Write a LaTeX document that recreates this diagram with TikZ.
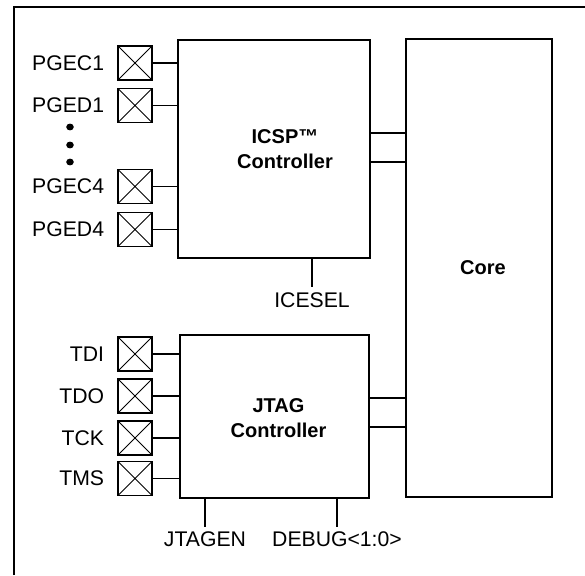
\documentclass[tikz,border=0pt]{standalone}
\usepackage{fontspec}
\setmainfont{Liberation Sans}
\usetikzlibrary{positioning}

\tikzset{
  ctrl/.style={draw, line width=1.7pt, inner sep=0pt},
  ctrltext/.style={font=\bfseries\fontsize{20}{25}\selectfont, align=center},
  pinbox/.style={draw, line width=1.5pt, minimum size=34pt, inner sep=0pt,
    path picture={\draw[line width=0.8pt]
      (path picture bounding box.north west) -- (path picture bounding box.south east)
      (path picture bounding box.south west) -- (path picture bounding box.north east);}},
  pinlabel/.style={font=\fontsize{21.2}{25}\selectfont, inner sep=0pt},
  wire/.style={line width=1.5pt},
}

\begin{document}
\begin{tikzpicture}[x=1pt, y=-1pt]

     \useasboundingbox (0,0) rectangle (585,575);
     \draw [line width=2.4pt] (14,575) -- (14,7) -- (585,7);

     % blocks
     \node (icsp) at (274,149) [ctrl, minimum width=192pt, minimum height=218pt] {};
     \node (jtag) at (274.5,416.5) [ctrl, minimum width=189pt, minimum height=163pt] {};
     \node (core) at (479,268) [ctrl, minimum width=146pt, minimum height=458pt] {};

     \node (icsptext) at ([xshift=11pt]icsp.center) [ctrltext] {ICSP™\\Controller};
     \node (jtagtext) at ([xshift=4pt, yshift=-1.5pt]jtag.center) [ctrltext] {JTAG\\Controller};
     \node (coretext) at ([xshift=4pt]core.center) [ctrltext] {Core};

     % ICSP pins
     \node (pgec1) at (135,63) [pinbox] {};
     \node (pged1) at (135,105.5) [pinbox] {};
     \node (pgec4) at (135,186.5) [pinbox] {};
     \node (pged4) at (135,229.5) [pinbox] {};

     \node [pinlabel, left=13pt of pgec1] {PGEC1};
     \node [pinlabel, left=13pt of pged1] {PGED1};
     \node [pinlabel, left=13pt of pgec4] {PGEC4};
     \node [pinlabel, left=13pt of pged4] {PGED4};

     \foreach \y in {127,145,162}
        \fill (70,\y) ellipse (3.8 and 3.4);

     \draw [wire] (pgec1) -- (pgec1 -| icsp.west);
     \draw [wire] (pged1) -- (pged1 -| icsp.west);
     \draw [wire] (pgec4) -- (pgec4 -| icsp.west);
     \draw [wire] (pged4) -- (pged4 -| icsp.west);

     % JTAG pins
     \node (tdi) at (135,354) [pinbox] {};
     \node (tdo) at (135,396) [pinbox] {};
     \node (tck) at (135,438) [pinbox] {};
     \node (tms) at (135,478.5) [pinbox] {};

     \node [pinlabel, left=13pt of tdi] {TDI};
     \node [pinlabel, left=13pt of tdo] {TDO};
     \node [pinlabel, left=13pt of tck] {TCK};
     \node [pinlabel, left=13pt of tms] {TMS};

     \draw [wire] (tdi) -- (tdi -| jtag.west);
     \draw [wire] (tdo) -- (tdo -| jtag.west);
     \draw [wire] (tck) -- (tck -| jtag.west);
     \draw [wire] (tms) -- (tms -| jtag.west);

     % links to the core
     \draw [wire] ([yshift=16pt]icsp.east) -- ([yshift=16pt]icsp.east -| core.west);
     \draw [wire] ([yshift=-13pt]icsp.east) -- ([yshift=-13pt]icsp.east -| core.west);
     \draw [wire] ([yshift=18.5pt]jtag.east) -- ([yshift=18.5pt]jtag.east -| core.west);
     \draw [wire] ([yshift=-10.5pt]jtag.east) -- ([yshift=-10.5pt]jtag.east -| core.west);

     % control signals
     \coordinate (icesel) at (312,287);
     \coordinate (jtagen) at (205,527);
     \coordinate (debug) at (337,527);

     \draw [wire] (icesel |- icsp.south) -- (icesel) node [pinlabel, below=5pt] {ICESEL};
     \draw [wire] (jtagen |- jtag.south) -- (jtagen) node [pinlabel, below=4pt] {JTAGEN};
     \draw [wire] (debug |- jtag.south) -- (debug) node [pinlabel, below=4pt] {DEBUG<1:0>};

 \end{tikzpicture}
\end{document}
